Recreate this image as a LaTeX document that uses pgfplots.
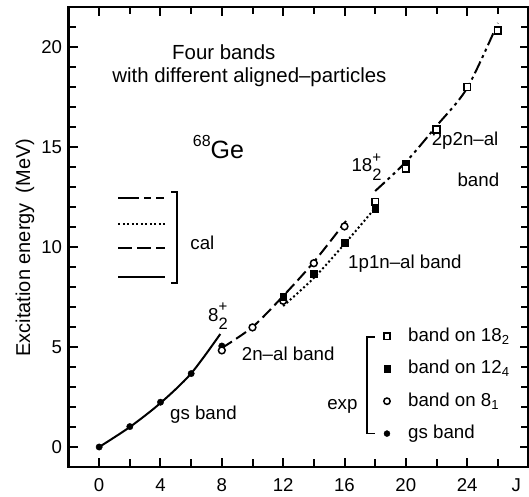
\documentclass[border=0pt]{standalone}
\usepackage{fontspec}
\setmainfont{Liberation Sans}
\usepackage{pgfplots}
\pgfplotsset{compat=1.18}
\newcommand{\stpm}{\rlap{\raisebox{9.5bp}{\fontsize{15bp}{16bp}\selectfont +}}\raisebox{-8.3bp}{\fontsize{16.5bp}{18bp}\selectfont 2}}
\begin{document}
\fontsize{18.7bp}{22bp}\selectfont
\begin{tikzpicture}
\begin{axis}[
  name=ax,
  width=460bp, height=460bp, scale only axis,
  xmin=-2, xmax=28, ymin=-1, ymax=22,
  clip=false,
  axis line style={line width=2.4bp},
  xtick={0,4,...,24}, minor xtick={2,6,...,26},
  ytick={0,5,...,20}, minor ytick={1,2,...,21},
  major tick length=9bp, minor tick length=7.5bp,
  tick style={line width=2bp, black},
  tick align=inside,
  /pgf/number format/assume math mode=true,
  ticklabel style={font=\fontsize{18.6bp}{22bp}\selectfont},
  xticklabel style={yshift=-5bp},
  extra x ticks={27.2}, extra x tick labels={J},
  extra x tick style={major tick length=0pt},
]
% calculated bands
\addplot[line width=2bp, smooth] coordinates {(0,0)(2,1.0)(4,2.2)(6,3.68)(7.9,5.65)};
\addplot[line width=2bp, smooth, dash pattern=on 12bp off 5bp] coordinates {(8,4.95)(10,6.0)(12,7.55)(14,9.25)(16.1,11.3)};
\addplot[line width=2bp, smooth, dash pattern=on 2bp off 2.5bp] coordinates {(12,7.05)(14,8.45)(16,10.15)(18,11.95)};
\addplot[line width=2bp, smooth, dash pattern=on 13bp off 4bp on 3bp off 4bp on 3bp off 4bp] coordinates {(18,12.8)(20,14.25)(22,16.05)(24,17.95)(26,21.2)};
% experimental
\addplot[only marks, mark=*, mark size=3.2bp, black] coordinates {(0,0)(2,1.02)(4,2.24)(6,3.67)(8,5.05)};
\addplot[only marks, mark=*, mark size=3.4bp, mark options={fill=white, draw=black, line width=1.5bp}] coordinates {(8,4.83)(10,5.98)(12,7.31)(14,9.19)(16,11.03)};
\addplot[only marks, mark=square*, mark size=3.4bp, black] coordinates {(12,7.53)(14,8.66)(16,10.22)(18,11.93)(20,14.18)};
\addplot[only marks, mark=square*, mark size=3.4bp, mark options={fill=white, draw=black, line width=1.5bp}] coordinates {(18,12.26)(20,13.93)(22,15.88)(24,18.0)(26,20.82)};
% cal legend
\addplot[line width=2bp, dash pattern=on 21bp off 5bp on 7bp off 5bp on 8bp] coordinates {(1.26,12.44)(4.32,12.44)};
\addplot[line width=2bp, dash pattern=on 2bp off 2.5bp] coordinates {(1.26,11.15)(4.32,11.15)};
\addplot[line width=2bp, dash pattern=on 14bp off 5bp] coordinates {(1.26,9.96)(4.32,9.96)};
\addplot[line width=2bp] coordinates {(1.26,8.52)(4.32,8.52)};
\addplot[line width=1.5bp] coordinates {(4.7,12.76)(5.07,12.76)(5.07,8.2)(4.7,8.2)};
% exp legend
\addplot[line width=1.5bp] coordinates {(17.97,5.5)(17.47,5.5)(17.47,0.67)(17.97,0.67)};
\addplot[only marks, mark=square*, mark size=3.2bp, mark options={fill=white, draw=black, line width=1.5bp}] coordinates {(18.77,5.53)};
\addplot[only marks, mark=square*, mark size=3.2bp, black] coordinates {(18.77,3.92)};
\addplot[only marks, mark=*, mark size=3.2bp, mark options={fill=white, draw=black, line width=1.5bp}] coordinates {(18.77,2.29)};
\addplot[only marks, mark=*, mark size=3bp, black] coordinates {(18.77,0.67)};
\node[anchor=west, inner sep=0pt] at (axis cs:20.14,5.53) {band on 18\textsubscript{2}};
\node[anchor=west, inner sep=0pt] at (axis cs:20.14,3.92) {band on 12\textsubscript{4}};
\node[anchor=west, inner sep=0pt] at (axis cs:20.14,2.29) {band on 8\textsubscript{1}};
\node[anchor=west, inner sep=0pt] at (axis cs:20.14,0.67) {gs band};
\node[anchor=east, inner sep=0pt] at (axis cs:16.86,2.04) {exp};
\node[anchor=west, inner sep=0pt] at (axis cs:5.94,10.22) {cal};
% annotations
\node[anchor=west, inner sep=0pt, font=\fontsize{20.4bp}{24bp}\selectfont] at (axis cs:4.75,19.74) {Four bands};
\node[anchor=west, inner sep=0pt, font=\fontsize{20.4bp}{24bp}\selectfont] at (axis cs:0.85,18.5) {with different aligned–particles};
\node[anchor=base west, inner sep=0pt] at (axis cs:6.1,14.43) {{\fontsize{16bp}{18bp}\selectfont\raisebox{11.6bp}{68}}{\fontsize{25bp}{28bp}\selectfont Ge}};
\node[anchor=base west, inner sep=0pt] at (axis cs:7.1,6.28) {8\stpm};
\node[anchor=base west, inner sep=0pt] at (axis cs:16.45,13.76) {18\stpm};
\node[inner sep=0pt] at (axis cs:6.8,1.63) {gs band};
\node[inner sep=0pt] at (axis cs:12.33,4.67) {2n–al band};
\node[inner sep=0pt] at (axis cs:19.94,9.16) {1p1n–al band};
\node[anchor=east, inner sep=0pt] at (axis cs:26.05,15.33) {2p2n–al};
\node[anchor=east, inner sep=0pt] at (axis cs:26.1,13.34) {band};
\node[rotate=90, inner sep=0pt, font=\fontsize{20bp}{24bp}\selectfont] at (rel axis cs:-0.0946,0.477) {Excitation energy\hspace{0.5em}(MeV)};
\end{axis}
\pgfresetboundingbox
\useasboundingbox ([shift={(-68.5bp,-30bp)}]ax.south west) rectangle ([shift={(0.5bp,7bp)}]ax.north east);
\end{tikzpicture}
\end{document}
